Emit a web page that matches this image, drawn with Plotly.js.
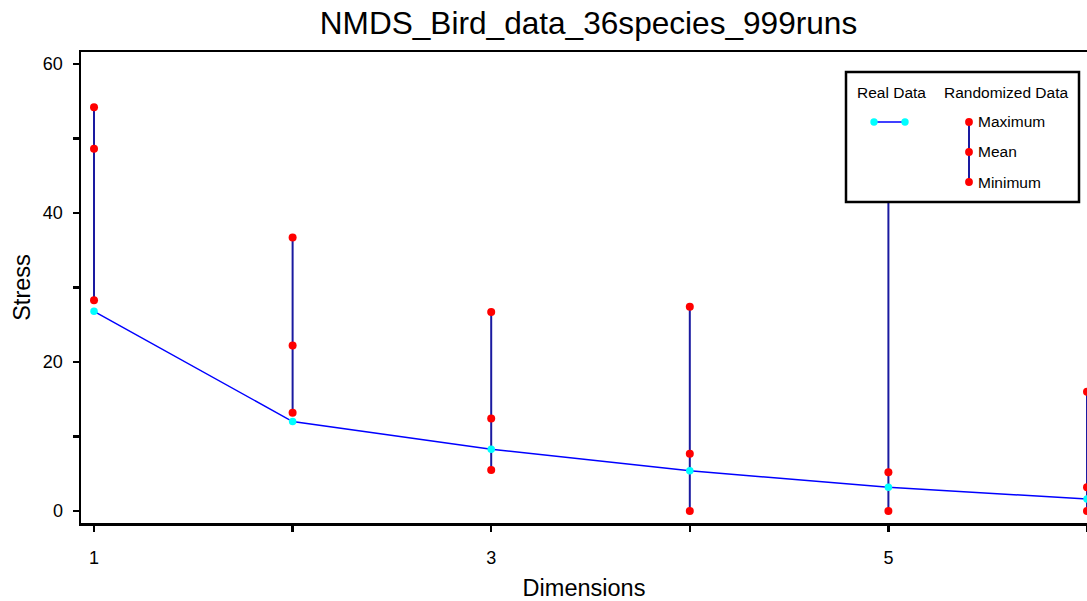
<!DOCTYPE html>
<html>
<head>
<meta charset="utf-8">
<script src="https://cdn.plot.ly/plotly-3.0.1.min.js"></script>
<style>html,body{margin:0;padding:0;background:#fff;}#chart{width:1087px;height:601px;}</style>
</head>
<body>
<div id="chart"></div>
<script>
const dimensions = [1, 2, 3, 4, 5, 6];
const realStress = [26.8, 12.0, 8.3, 5.4, 3.2, 1.6];
const randMin = [28.3, 13.2, 5.5, 0.0, 0.0, 0.0];
const randMean = [48.6, 22.2, 12.4, 7.7, 5.2, 3.2];
const randMax = [54.2, 36.7, 26.7, 27.4, 45.0, 16.0];
const xTickVals = [1, 2, 3, 4, 5, 6];
const xTickText = ['1', '', '3', '', '5', ''];
const yTickVals = [0, 10, 20, 30, 40, 50, 60];
const yTickText = ['0', '', '20', '', '40', '', '60'];

const font = 'Liberation Sans, Arial, sans-serif';

// vertical range lines
const rx = [], ry = [];
dimensions.forEach((d, i) => { rx.push(d, d, null); ry.push(randMin[i], randMax[i], null); });
const rangeLines = {x: rx, y: ry, mode: 'lines', line: {color: '#1a1aa0', width: 2}, hoverinfo: 'skip', showlegend: false};

const realLine = {x: dimensions, y: realStress, mode: 'lines', line: {color: '#0000ff', width: 1.5}, showlegend: false};

const mx = [], my = [];
dimensions.forEach((d, i) => { mx.push(d, d, d); my.push(randMin[i], randMean[i], randMax[i]); });
const randMarkers = {x: mx, y: my, mode: 'markers', marker: {color: '#ff0000', size: 8}, showlegend: false};
const realMarkers = {x: dimensions, y: realStress, mode: 'markers', marker: {color: '#00ffff', size: 7.5}, showlegend: false};

// legend (drawn as shapes/annotations in pixel-based paper coords)
const W = 1087, H = 601, L = 81, R = 0, T = 52, B = 78;
const pw = W - L - R, ph = H - T - B;
const px = v => (v - L) / pw;
const py = v => (H - B - v) / ph;

const shapes = [
  {type: 'rect', xref: 'paper', yref: 'paper', x0: px(846), x1: px(1079), y0: py(202), y1: py(72), fillcolor: '#ffffff', line: {color: '#000', width: 2.5}, layer: 'above'},
  {type: 'line', xref: 'paper', yref: 'paper', x0: px(874), x1: px(905), y0: py(122), y1: py(122), line: {color: '#0000ff', width: 1.5}, layer: 'above'},
  {type: 'line', xref: 'paper', yref: 'paper', x0: px(969), x1: px(969), y0: py(122), y1: py(182), line: {color: '#1a1aa0', width: 2}, layer: 'above'}
];
function dot(cx, cy, r, col) {
  shapes.push({type: 'circle', xref: 'paper', yref: 'paper', x0: px(cx - r), x1: px(cx + r), y0: py(cy + r), y1: py(cy - r), fillcolor: col, line: {width: 0}, layer: 'above'});
}
dot(874, 122, 3.7, '#00ffff'); dot(905, 122, 3.7, '#00ffff');
dot(969, 122, 3.9, '#ff0000'); dot(969, 152, 3.9, '#ff0000'); dot(969, 182, 3.9, '#ff0000');

const lf = {family: font, size: 15.5, color: '#000'};
const annotations = [
  {xref: 'paper', yref: 'paper', x: px(891), y: py(92), text: 'Real Data', showarrow: false, xanchor: 'center', yanchor: 'middle', font: lf},
  {xref: 'paper', yref: 'paper', x: px(1006), y: py(92), text: 'Randomized Data', showarrow: false, xanchor: 'center', yanchor: 'middle', font: lf},
  {xref: 'paper', yref: 'paper', x: px(976), y: py(122), text: 'Maximum', showarrow: false, xanchor: 'left', yanchor: 'middle', font: lf},
  {xref: 'paper', yref: 'paper', x: px(976), y: py(152), text: 'Mean', showarrow: false, xanchor: 'left', yanchor: 'middle', font: lf},
  {xref: 'paper', yref: 'paper', x: px(976), y: py(182), text: 'Minimum', showarrow: false, xanchor: 'left', yanchor: 'middle', font: lf}
];

const layout = {
  width: W, height: H,
  margin: {l: L, r: R, t: T, b: B, pad: 0},
  paper_bgcolor: '#fff', plot_bgcolor: '#fff',
  font: {family: font, color: '#000'},
  title: {text: 'NMDS_Bird_data_36species_999runs', font: {family: font, size: 31.6, color: '#000'}, x: 0.5414, xanchor: 'center', y: 0.962, yanchor: 'middle'},
  showlegend: false,
  xaxis: {
    range: [0.9345, 6.0], tickvals: xTickVals, ticktext: xTickText,
    showgrid: false, zeroline: false, showline: true, linecolor: '#000', linewidth: 2.5, mirror: true,
    ticks: 'outside', ticklen: 6, tickwidth: 2.5, tickcolor: '#000',
    tickfont: {family: font, size: 18, color: '#000'}, ticklabelstandoff: 11,
    title: {text: 'Dimensions', font: {family: font, size: 23.5, color: '#000'}, standoff: 14}
  },
  yaxis: {
    range: [-1.61, 61.6], tickvals: yTickVals, ticktext: yTickText,
    showgrid: false, zeroline: false, showline: true, linecolor: '#000', linewidth: 2.5,
    ticks: 'outside', ticklen: 6, tickwidth: 2.5, tickcolor: '#000',
    tickfont: {family: font, size: 18, color: '#000'}, ticklabelstandoff: 6,
    title: {text: 'Stress', font: {family: font, size: 23.5, color: '#000'}, standoff: 6}
  },
  shapes: shapes,
  annotations: annotations
};

Plotly.newPlot('chart', [rangeLines, realLine, randMarkers, realMarkers], layout, {displayModeBar: false, staticPlot: true});
</script>
</body>
</html>
